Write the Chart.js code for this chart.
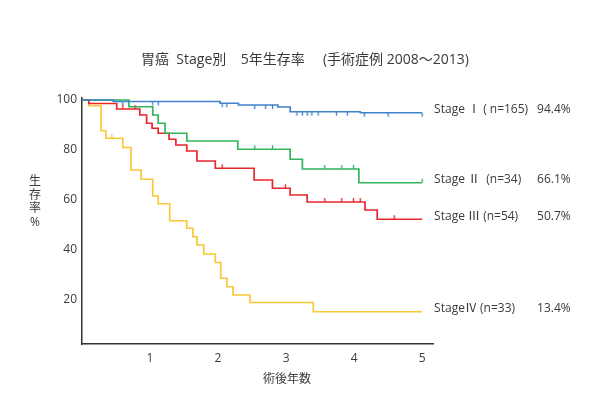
<!DOCTYPE html>
<html>
<head>
<meta charset="utf-8">
<script src="https://cdn.jsdelivr.net/npm/chart.js@4.4.0/dist/chart.umd.min.js"></script>
<style>
  html, body { margin: 0; padding: 0; background: #fff; }
  #wrap { width: 600px; height: 415px; }
</style>
</head>
<body>
<div id="wrap"><canvas id="km"></canvas></div>
<script>
// 各Stageの生存曲線 (年, 生存率%)
const stage1Years = [0, 0.46, 2.03, 2.3, 2.88, 3.06, 4.09, 5];
const stage1Rates = [100, 99.4, 98.7, 98.0, 97.2, 95.3, 94.9, 94.9];

const stage2Years = [0, 0.69, 1.04, 1.12, 1.22, 1.54, 2.29, 3.06, 3.24, 4.07, 5];
const stage2Rates = [100, 97.3, 94.0, 90.7, 86.7, 83.6, 80.3, 76.3, 72.4, 66.9, 66.9];

const stage3Years = [0, 0.1, 0.51, 0.85, 0.95, 1.03, 1.12, 1.28, 1.38, 1.54, 1.69, 1.96, 2.53, 2.8, 3.06, 3.31, 4.16, 4.34, 5];
const stage3Rates = [100, 98.6, 96.4, 94.0, 90.7, 88.7, 86.7, 84.3, 82.0, 79.6, 75.6, 72.7, 68.0, 64.7, 62.0, 59.2, 56.0, 52.3, 52.3];

const stage4Years = [0, 0.1, 0.28, 0.35, 0.6, 0.72, 0.87, 1.04, 1.12, 1.29, 1.54, 1.63, 1.69, 1.79, 1.96, 2.04, 2.13, 2.22, 2.47, 3.4, 5];
const stage4Rates = [100, 97.7, 87.7, 84.7, 81.0, 72.0, 68.3, 61.6, 58.5, 51.7, 48.7, 45.3, 42.0, 38.4, 35.0, 28.7, 25.3, 22.0, 19.0, 15.3, 15.3];

// 打ち切り (censor) の位置
const censor1 = [[0.6, 99.4], [1.04, 99.4], [1.12, 99.4], [2.06, 98.7], [2.13, 98.7], [2.54, 98.0], [2.7, 98.0], [2.8, 98.0],
                 [3.16, 95.3], [3.24, 95.3], [3.31, 95.3], [3.38, 95.3], [3.47, 95.3], [3.74, 95.3], [3.9, 95.3], [4.15, 94.9], [4.5, 94.9], [5, 94.9]];
const censor2 = [[2.54, 80.3], [2.8, 80.3], [3.57, 72.4], [3.82, 72.4], [3.99, 72.4], [5, 66.9]];
const censor3 = [[0.6, 96.4], [0.78, 96.4], [2.06, 72.7], [2.99, 64.7], [3.57, 59.2], [3.82, 59.2], [3.99, 59.2], [4.09, 59.2], [4.59, 52.3]];
const censor4 = [[0.44, 84.7]];

const stageNames = ['Stage Ⅰ ( n=165)', 'Stage Ⅱ  (n=34)', 'Stage Ⅲ (n=54)', 'StageⅣ (n=33)'];
const stageRates5y = ['94.4%', '66.1%', '50.7%', '13.4%'];
const stageColors = ['#3f83c8', '#32b45c', '#e8262d', '#f8c836'];
const censorDown = [true, false, false, false];

const xTickValues = [1, 2, 3, 4, 5];
const yTickValues = [20, 40, 60, 80, 100];

const titleText = '胃癌  Stage別    5年生存率     (手術症例 2008〜2013)';
const xTitle = '術後年数';
const yTitle = ['生', '存', '率', '%'];

const textColor = '#3a3a3a';
const fontFamily = '"Open Sans", "Noto Sans CJK JP", sans-serif';

function toPoints(xs, ys) {
    return xs.map((x, i) => ({ x: x, y: ys[i] }));
}

// 打ち切りマーク: 線から片側に伸びる短い縦線
function censorMark(color, down) {
    const c = document.createElement('canvas');
    c.width = 3;
    c.height = 10;
    const g = c.getContext('2d');
    g.strokeStyle = color;
    g.lineWidth = 1.3;
    g.beginPath();
    if (down) {
        g.moveTo(1.5, 5);
        g.lineTo(1.5, 9);
    } else {
        g.moveTo(1.5, 1);
        g.lineTo(1.5, 5);
    }
    g.stroke();
    return c;
}

const curves = [
    toPoints(stage1Years, stage1Rates),
    toPoints(stage2Years, stage2Rates),
    toPoints(stage3Years, stage3Rates),
    toPoints(stage4Years, stage4Rates)
];
const censors = [censor1, censor2, censor3, censor4];

const datasets = [];
curves.forEach((pts, i) => {
    datasets.push({
        type: 'line',
        data: pts,
        borderColor: stageColors[i],
        borderWidth: 1.7,
        stepped: true,
        pointRadius: 0,
        fill: false
    });
});
censors.forEach((list, i) => {
    datasets.push({
        type: 'scatter',
        data: list.map(p => ({ x: p[0], y: p[1] })),
        pointStyle: censorMark(stageColors[i], censorDown[i]),
        radius: 5
    });
});

// 文字類の描画
const textPlugin = {
    id: 'texts',
    afterDraw(chart) {
        const ctx = chart.ctx;
        const xs = chart.scales.x;
        const ys = chart.scales.y;
        ctx.save();
        ctx.fillStyle = textColor;
        ctx.textBaseline = 'middle';

        ctx.font = '14px ' + fontFamily;
        ctx.textAlign = 'center';
        ctx.fillText(titleText, 305, 60);

        ctx.font = '12px ' + fontFamily;
        ctx.fillText(xTitle, 287, 380);
        yTitle.forEach((ch, i) => ctx.fillText(ch, 35, 182 + i * 13.5));

        ctx.textAlign = 'left';
        curves.forEach((pts, i) => {
            const last = pts[pts.length - 1];
            const y = ys.getPixelForValue(last.y) - 3;
            const x = xs.getPixelForValue(5) + 12;
            ctx.fillText(stageNames[i], x, y);
            ctx.fillText(stageRates5y[i], x + 103, y);
        });
        ctx.restore();
    }
};

new Chart(document.getElementById('km'), {
    data: { datasets: datasets },
    options: {
        responsive: true,
        maintainAspectRatio: false,
        animation: false,
        layout: { padding: { left: 40, right: 167, top: 98, bottom: 41 } },
        plugins: {
            legend: { display: false },
            tooltip: { enabled: false }
        },
        scales: {
            x: {
                type: 'linear',
                min: 0,
                max: 5.16,
                grid: { display: false, drawTicks: false },
                border: { display: true, color: '#333', width: 1.5 },
                afterBuildTicks: (scale) => { scale.ticks = xTickValues.map(v => ({ value: v })); },
                afterFit: (scale) => { scale.height = 30; },
                ticks: { color: textColor, padding: 7, font: { size: 12, family: fontFamily } }
            },
            y: {
                type: 'linear',
                min: 2.4,
                max: 100.8,
                grid: { display: false, drawTicks: false },
                border: { display: true, color: '#333', width: 1.5 },
                afterBuildTicks: (scale) => { scale.ticks = yTickValues.map(v => ({ value: v })); },
                afterFit: (scale) => { scale.width = 42; },
                ticks: { color: textColor, padding: 5, font: { size: 12, family: fontFamily } }
            }
        }
    },
    plugins: [textPlugin]
});
</script>
</body>
</html>
